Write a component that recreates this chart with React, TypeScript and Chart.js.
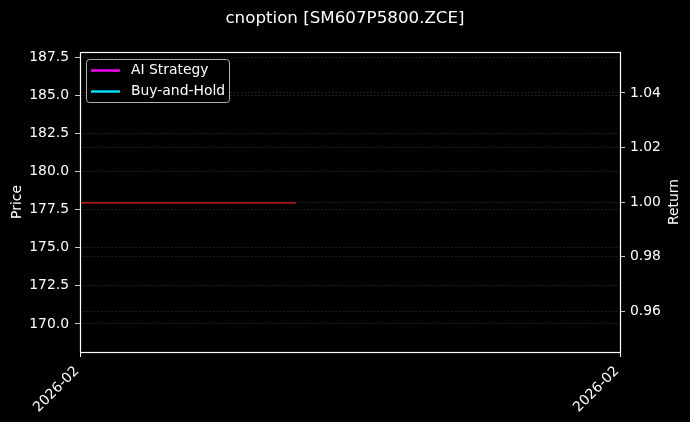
import Chart from "chart.js/auto";
import { useEffect, useRef } from "react";

// chart values
const chartTitle = "cnoption [SM607P5800.ZCE]";
const xTickPositions = [0, 1];
const xTickLabels = ["2026-02", "2026-02"];
const priceX = [0, 0.4];
const priceValues = [177.95, 177.95];
const aiStrategyValues: number[] = [];
const buyHoldValues: number[] = [];
const priceTicks = [170, 172.5, 175, 177.5, 180, 182.5, 185, 187.5];
const returnTicks = [0.96, 0.98, 1.0, 1.02, 1.04];
const priceRange = [168.16, 187.84];
const returnRange = [0.945, 1.055];

const FONT = "DejaVu Sans";
const gridColor = "rgba(140,140,140,0.35)";

const bgPlugin = {
  id: "bg",
  beforeDraw(chart: any) {
    const { ctx, width, height } = chart;
    ctx.save();
    ctx.fillStyle = "#000";
    ctx.fillRect(0, 0, width, height);
    ctx.restore();
  },
};

const framePlugin = {
  id: "frame",
  afterDraw(chart: any) {
    const { ctx, chartArea: a } = chart;
    ctx.save();
    // spines
    ctx.strokeStyle = "#fff";
    ctx.lineWidth = 1.2;
    ctx.strokeRect(
      Math.round(a.left) + 0.5,
      Math.round(a.top) + 0.5,
      Math.round(a.right - a.left),
      Math.round(a.bottom - a.top)
    );

    // right axis title, rotated like matplotlib
    ctx.fillStyle = "#fff";
    ctx.font = `13.9px "${FONT}"`;
    ctx.textAlign = "center";
    ctx.textBaseline = "middle";
    ctx.translate(674, (a.top + a.bottom) / 2);
    ctx.rotate(-Math.PI / 2);
    ctx.fillText("Return", 0, 0);
    ctx.restore();

    // legend box
    const items = chart.data.datasets.filter((d: any) => d.inLegend);
    const x = 86.5;
    const y = 59.5;
    const w = 143;
    const h = 43;
    ctx.save();
    ctx.beginPath();
    ctx.roundRect(x, y, w, h, 3);
    ctx.fillStyle = "rgba(0,0,0,0.8)";
    ctx.fill();
    ctx.strokeStyle = "rgba(210,210,210,0.85)";
    ctx.lineWidth = 1;
    ctx.stroke();
    ctx.font = `13.9px "${FONT}"`;
    ctx.textBaseline = "middle";
    ctx.textAlign = "left";
    items.forEach((d: any, i: number) => {
      const cy = 70.5 + i * 21;
      ctx.strokeStyle = d.borderColor;
      ctx.lineWidth = 2.4;
      ctx.beginPath();
      ctx.moveTo(91, cy);
      ctx.lineTo(120, cy);
      ctx.stroke();
      ctx.fillStyle = "#fff";
      ctx.fillText(d.label, 131, cy);
    });
    ctx.restore();
  },
};

const App = () => {
  const canvasRef = useRef<HTMLCanvasElement>(null);

  useEffect(() => {
    document.body.style.margin = "0";
    document.body.style.background = "#000";
    const ctx = canvasRef.current?.getContext("2d");
    if (!ctx) return;

    const myChart = new Chart(ctx, {
      type: "line",
      data: {
        datasets: [
          {
            label: "Price",
            data: priceX.map((x, i) => ({ x, y: priceValues[i] })),
            borderColor: "rgb(225,30,35)",
            borderWidth: 1.2,
            pointRadius: 0,
            yAxisID: "y",
          },
          {
            label: "AI Strategy",
            data: aiStrategyValues.map((y, i) => ({ x: i, y })),
            borderColor: "#ff00ff",
            borderWidth: 2,
            pointRadius: 0,
            yAxisID: "y1",
            inLegend: true,
          } as any,
          {
            label: "Buy-and-Hold",
            data: buyHoldValues.map((y, i) => ({ x: i, y })),
            borderColor: "#00e5ff",
            borderWidth: 2,
            pointRadius: 0,
            yAxisID: "y1",
            inLegend: true,
          } as any,
        ],
      },
      options: {
        animation: false,
        responsive: false,
        devicePixelRatio: 1,
        layout: { padding: 0 },
        plugins: {
          legend: { display: false },
          tooltip: { enabled: false },
          title: {
            display: true,
            text: chartTitle,
            color: "#fff",
            font: { family: FONT, size: 16.7, weight: "normal" },
            padding: { top: 9, bottom: 23 },
          },
        },
        scales: {
          x: {
            type: "linear",
            min: xTickPositions[0],
            max: xTickPositions[xTickPositions.length - 1],
            afterFit: (s: any) => {
              s.height = 70;
            },
            afterBuildTicks: (s: any) => {
              s.ticks = xTickPositions.map((v) => ({ value: v }));
            },
            ticks: {
              color: "#fff",
              font: { family: FONT, size: 13.9 },
              maxRotation: 45,
              minRotation: 45,
              autoSkip: false,
              padding: 6,
              labelOffset: -3,
              callback: (_v: any, i: number) => xTickLabels[i],
            },
            grid: {
              drawOnChartArea: false,
              drawTicks: true,
              tickLength: 5,
              tickColor: "#fff",
              color: "#fff",
            },
            border: { display: false },
          },
          y: {
            type: "linear",
            position: "left",
            min: priceRange[0],
            max: priceRange[1],
            afterFit: (s: any) => {
              s.width = 80;
            },
            afterBuildTicks: (s: any) => {
              s.ticks = priceTicks.map((v) => ({ value: v }));
            },
            ticks: {
              color: "#fff",
              font: { family: FONT, size: 13.9 },
              padding: 6,
              callback: (v: any) => Number(v).toFixed(1),
            },
            grid: {
              color: gridColor,
              lineWidth: 0.8,
              tickLength: 5,
              tickColor: "#fff",
            },
            border: { display: false, dash: [1.5, 2] },
            title: {
              display: true,
              text: "Price",
              color: "#fff",
              font: { family: FONT, size: 13.9 },
              padding: { top: 9, bottom: 0 },
            },
          },
          y1: {
            type: "linear",
            position: "right",
            min: returnRange[0],
            max: returnRange[1],
            afterFit: (s: any) => {
              s.width = 70;
            },
            afterBuildTicks: (s: any) => {
              s.ticks = returnTicks.map((v) => ({ value: v }));
            },
            ticks: {
              color: "#fff",
              font: { family: FONT, size: 13.9 },
              padding: 5,
              callback: (v: any) => Number(v).toFixed(2),
            },
            grid: {
              color: gridColor,
              lineWidth: 0.8,
              tickLength: 5,
              tickColor: "#fff",
            },
            border: { display: false, dash: [1.5, 2] },
          },
        },
      },
      plugins: [bgPlugin, framePlugin],
    });

    return () => {
      myChart.destroy();
    };
  }, []);

  return (
    <div style={{ width: 690, height: 422, background: "#000" }}>
      <canvas ref={canvasRef} width={690} height={422}></canvas>
    </div>
  );
};

export default App;
